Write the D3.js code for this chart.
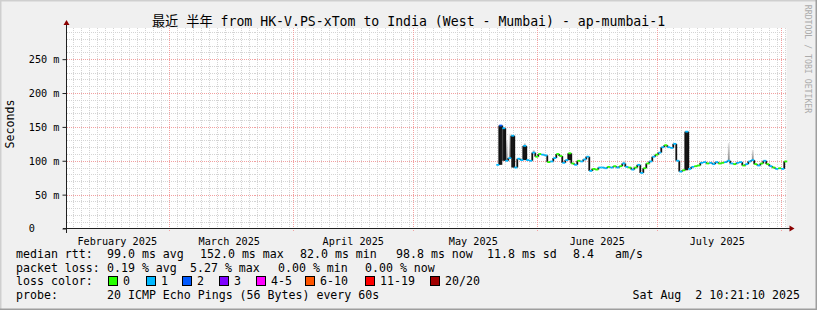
<!DOCTYPE html>
<html>
<head>
<meta charset="utf-8">
<script src="https://cdn.jsdelivr.net/npm/d3@7"></script>
<style>
body { margin: 0; background: #f0f0f0; }
svg text { font-family: "DejaVu Sans Mono", "Noto Sans CJK SC", monospace; white-space: pre; fill: #000; }
</style>
</head>
<body>
<div id="chart"></div>
<script>
// chart data
const title = "最近 半年 from HK-V.PS-xTom to India (West - Mumbai) - ap-mumbai-1";
const startTime = new Date("2025-02-03T10:21:10Z");
const endTime = new Date("2025-08-02T10:21:10Z");
const yMax = 296;
const yTicks = [0, 50, 100, 150, 200, 250];
const yTickLabels = ["0    ", "50 m", "100 m", "150 m", "200 m", "250 m"];
const monthLabels = ["February 2025", "March 2025", "April 2025", "May 2025", "June 2025", "July 2025"];
const monthLabelDates = ["2025-02-16", "2025-03-16", "2025-04-16", "2025-05-16", "2025-06-16", "2025-07-16"];

// median rtt (ms), one value every 18 hours from firstSample
const firstSample = new Date("2025-05-22T06:00:00Z");
const sampleHours = 18;
const medianRtt = [
  94, 152, 148, 100, 104, 137, 90, 103, 101, 122, 101, 100, 112,
  106, 110, 109, 108, 98, 99, 104, 110, 107, 97, 101, 111, 96, 94, 100, 99, 102, 106,
  85, 88, 87, 90, 90, 89, 91, 90, 92, 90, 92, 96, 91, 90, 87, 90, 94, 82, 89,
  96, 99, 106, 109, 112, 120, 123, 120, 119, 125, 100, 84, 86, 143,
  88, 91, 92, 93, 97, 98, 96, 97, 95, 98, 96, 97, 98, 100, 96, 95, 97, 98,
  93, 95, 99, 101, 95, 93, 96, 100, 95, 92, 90, 88, 89, 88, 99
];
// loss bucket per sample (index into lossColors)
const lossIndex = [
  1, 2, 1, 1, 1, 1, 1, 1, 1, 1, 1, 1, 1,
  0, 0, 1, 1, 0, 1, 1, 0, 0, 1, 1, 0, 0, 1, 0, 1, 1, 1,
  1, 0, 0, 1, 1, 1, 0, 1, 0, 1, 0, 1, 1, 0, 1, 0, 1, 1, 0,
  0, 1, 1, 0, 1, 1, 0, 1, 1, 1, 1, 1, 0, 1,
  1, 1, 0, 0, 1, 1, 0, 1, 1, 1, 0, 0, 1, 1, 1, 0, 1, 1,
  0, 1, 1, 1, 0, 1, 0, 1, 0, 1, 0, 1, 0, 1, 0
];
// smoke tops: [sample index, highest ping ms]
const smokeTops = [[3, 130], [4, 140], [9, 126], [12, 116], [42, 100], [77, 126], [85, 116]];

const lossLabels = ["0", "1", "2", "3", "4-5", "6-10", "11-19", "20/20"];
const lossColors = ["#26ff00", "#00b8ff", "#0059ff", "#7e00ff", "#ff00ff", "#ff5500", "#ff0000", "#a10000"];
const lossBoxX = [108, 146, 182, 219, 256, 305, 365, 430];

const rttLegend = ["median rtt:", "99.0 ms avg", "152.0 ms max", "82.0 ms min", "98.8 ms now", "11.8 ms sd", "8.4", "am/s"];
const rttLegendX = [16, 107, 200, 300, 396, 487, 573, 615];
const lossLegend = ["packet loss:", "0.19 % avg", "5.27 % max", "0.00 % min", "0.00 % now"];
const lossLegendX = [16, 107, 190, 278, 365];
const probeText = "20 ICMP Echo Pings (56 Bytes) every 60s";
const stampText = "Sat Aug  2 10:21:10 2025";

const W = 817, H = 310;
const plot = {left: 66.5, right: 786.5, top: 28, bottom: 228.5};

const svg = d3.select("#chart").append("svg")
  .attr("width", W).attr("height", H);

// background and 3d border
svg.append("rect").attr("width", W).attr("height", H).attr("fill", "#f0f0f0");
svg.append("path").attr("d", `M0,${H} V0 H${W}`).attr("fill", "none").attr("stroke", "#cfcfcf").attr("stroke-width", 3);
svg.append("path").attr("d", `M0,${H} H${W} V0`).attr("fill", "none").attr("stroke", "#9e9e9e").attr("stroke-width", 3);

const x = d3.scaleUtc().domain([startTime, endTime]).range([plot.left, plot.right]);
const y = d3.scaleLinear().domain([0, yMax]).range([plot.bottom, plot.top]);

svg.append("rect")
  .attr("x", plot.left).attr("y", plot.top)
  .attr("width", plot.right - plot.left).attr("height", plot.bottom - plot.top)
  .attr("fill", "#ffffff");

// minor grid
const minorDays = d3.utcDay.range(startTime, endTime).filter(d => Math.round(d / 864e5) % 2 === 0);
const grid = svg.append("g").attr("shape-rendering", "crispEdges");
grid.selectAll(".vminor").data(minorDays).join("line")
  .attr("x1", d => Math.round(x(d)) + 0.5).attr("x2", d => Math.round(x(d)) + 0.5)
  .attr("y1", plot.top).attr("y2", plot.bottom)
  .attr("stroke", "#d4d4d4").attr("stroke-dasharray", "1,1");
const minorValues = d3.range(10, yMax, 10).filter(v => v % 50 !== 0);
grid.selectAll(".hminor").data(minorValues).join("line")
  .attr("x1", plot.left).attr("x2", plot.right)
  .attr("y1", d => Math.round(y(d)) + 0.5).attr("y2", d => Math.round(y(d)) + 0.5)
  .attr("stroke", "#d4d4d4").attr("stroke-dasharray", "1,1");

// major grid
const months = d3.utcMonth.range(startTime, endTime);
grid.selectAll(".vmajor").data(months).join("line")
  .attr("x1", d => Math.round(x(d)) + 0.5).attr("x2", d => Math.round(x(d)) + 0.5)
  .attr("y1", plot.top).attr("y2", plot.bottom + 3)
  .attr("stroke", "#f2a0a0").attr("stroke-dasharray", "1,1");
grid.selectAll(".hmajor").data(yTicks.filter(v => v > 0)).join("line")
  .attr("x1", plot.left).attr("x2", plot.right)
  .attr("y1", d => Math.round(y(d)) + 0.5).attr("y2", d => Math.round(y(d)) + 0.5)
  .attr("stroke", "#f2a0a0").attr("stroke-dasharray", "1,1");

// data
const hour = 36e5;
const samples = medianRtt.map((v, i) => ({
  t: new Date(+firstSample + i * sampleHours * hour),
  v: v,
  loss: lossIndex[i]
}));
const half = sampleHours / 2 * hour;
samples.forEach((d, i) => {
  const prev = i > 0 ? samples[i - 1].v : d.v;
  const next = i < samples.length - 1 ? samples[i + 1].v : d.v;
  // tall spikes are filled down to the lower neighbour, small ones to the higher
  d.peakBase = d.v >= 130 ? Math.min(prev, next) : Math.max(prev, next);
});

const defs = svg.append("defs");
const grad = defs.append("linearGradient").attr("id", "smoke").attr("x1", 0).attr("y1", 0).attr("x2", 0).attr("y2", 1);
grad.append("stop").attr("offset", "0%").attr("stop-color", "#e6e6e6");
grad.append("stop").attr("offset", "100%").attr("stop-color", "#8a8a8a");

const data = svg.append("g");
data.selectAll(".smoke").data(smokeTops).join("rect")
  .attr("x", d => x(new Date(+samples[d[0]].t - half * 0.6)))
  .attr("width", d => x(new Date(+samples[d[0]].t + half * 0.6)) - x(new Date(+samples[d[0]].t - half * 0.6)))
  .attr("y", d => y(d[1]))
  .attr("height", d => y(samples[d[0]].v) - y(d[1]))
  .attr("fill", "url(#smoke)");

// solid fill under sharp peaks
data.selectAll(".peak").data(samples.filter(d => d.v - d.peakBase > 8)).join("rect")
  .attr("x", d => x(new Date(+d.t - half)))
  .attr("width", d => x(new Date(+d.t + half)) - x(new Date(+d.t - half)))
  .attr("y", d => y(d.v))
  .attr("height", d => y(d.peakBase) - y(d.v))
  .attr("fill", "#1a1a1a");

data.selectAll(".join").data(samples.slice(0, -1)).join("line")
  .attr("x1", d => x(new Date(+d.t + half))).attr("x2", d => x(new Date(+d.t + half)))
  .attr("y1", (d, i) => y(d.v)).attr("y2", (d, i) => y(samples[i + 1].v))
  .attr("stroke", "#111").attr("stroke-width", 1.8);

data.selectAll(".step").data(samples).join("line")
  .attr("x1", d => x(new Date(+d.t - half))).attr("x2", d => x(new Date(+d.t + half)))
  .attr("y1", d => y(d.v)).attr("y2", d => y(d.v))
  .attr("stroke", d => lossColors[d.loss]).attr("stroke-width", 1.8);

// axes
const yAxis = svg.append("g")
  .attr("transform", `translate(${plot.left},0)`)
  .call(d3.axisLeft(y).tickValues(yTicks).tickSize(4).tickPadding(3)
    .tickFormat((d, i) => yTickLabels[i]));
yAxis.select(".domain").remove();
yAxis.selectAll("line").attr("stroke", "#202020");
yAxis.selectAll("text").style("font-size", "10.2px").attr("dy", "0.33em");

const xAxis = svg.append("g")
  .attr("transform", `translate(0,${plot.bottom})`)
  .call(d3.axisBottom(x).tickValues(monthLabelDates.map(d => new Date(d + "T00:00:00Z")))
    .tickSize(0).tickPadding(9).tickFormat((d, i) => monthLabels[i]));
xAxis.select(".domain").remove();
xAxis.selectAll("text").style("font-size", "10.2px");

svg.append("line")
  .attr("x1", plot.left).attr("x2", plot.left)
  .attr("y1", plot.bottom + 4).attr("y2", plot.top - 6)
  .attr("stroke", "#202020").attr("shape-rendering", "crispEdges");
svg.append("line")
  .attr("x1", plot.left - 4).attr("x2", plot.right + 3)
  .attr("y1", plot.bottom).attr("y2", plot.bottom)
  .attr("stroke", "#202020").attr("shape-rendering", "crispEdges");
svg.append("path")
  .attr("d", `M${plot.left - 3},${plot.top - 3} L${plot.left + 3},${plot.top - 3} L${plot.left},${plot.top - 8} Z`)
  .attr("fill", "#8b0000");
svg.append("path")
  .attr("d", `M${plot.right + 3},${plot.bottom - 3} L${plot.right + 3},${plot.bottom + 3} L${plot.right + 8},${plot.bottom} Z`)
  .attr("fill", "#8b0000");

// titles
svg.append("text").attr("x", W / 2).attr("y", 26)
  .attr("text-anchor", "middle").style("font-size", "13.2px").text(title);
svg.append("text").attr("transform", "translate(14,124) rotate(-90)")
  .attr("text-anchor", "middle").style("font-size", "11.6px").text("Seconds");
svg.append("text").attr("transform", "translate(805,59) rotate(90)")
  .attr("text-anchor", "middle").style("font-size", "8.2px").style("fill", "#ababab")
  .text("RRDTOOL / TOBI OETIKER");

// legend
const legend = svg.append("g").style("font-size", "11.6px");
legend.selectAll(".rtt").data(rttLegend).join("text")
  .attr("x", (d, i) => rttLegendX[i]).attr("y", 258).text(d => d);
legend.selectAll(".loss").data(lossLegend).join("text")
  .attr("x", (d, i) => lossLegendX[i]).attr("y", 272).text(d => d);
legend.append("text").attr("x", 16).attr("y", 285).text("loss color:");
legend.selectAll(".box").data(lossColors).join("rect")
  .attr("x", (d, i) => lossBoxX[i] + 0.5).attr("y", 276.5)
  .attr("width", 9).attr("height", 9)
  .attr("fill", d => d).attr("stroke", "#000");
legend.selectAll(".boxlabel").data(lossLabels).join("text")
  .attr("x", (d, i) => lossBoxX[i] + 15).attr("y", 285).text(d => d);
legend.append("text").attr("x", 16).attr("y", 299).text("probe:");
legend.append("text").attr("x", 107).attr("y", 299).text(probeText);
legend.append("text").attr("x", 800).attr("y", 299).attr("text-anchor", "end").text(stampText);
</script>
</body>
</html>
